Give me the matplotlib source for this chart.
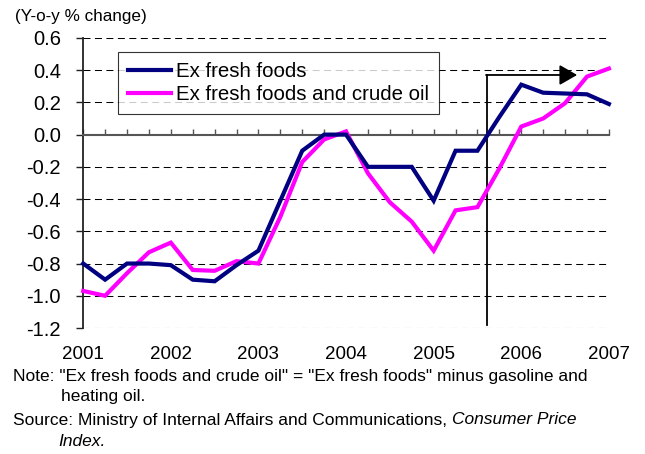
import matplotlib
matplotlib.use("Agg")
import matplotlib.pyplot as plt
import numpy as np
from matplotlib import font_manager

# quarterly, 2001Q1 .. 2007Q1
years = ["2001", "2002", "2003", "2004", "2005", "2006", "2007"]
ex_fresh = [-0.80, -0.90, -0.80, -0.80, -0.81, -0.90, -0.91, -0.81, -0.72,
            -0.41, -0.10, 0.00, 0.00, -0.20, -0.20, -0.20, -0.41, -0.10,
            -0.10, 0.11, 0.31, 0.26, 0.255, 0.25, 0.19]
ex_fresh_oil = [-0.97, -1.00, -0.86, -0.73, -0.67, -0.84, -0.845, -0.785, -0.80,
                -0.51, -0.17, -0.03, 0.02, -0.24, -0.42, -0.54, -0.72, -0.47,
                -0.45, -0.21, 0.05, 0.10, 0.195, 0.36, 0.41]
yticks = [0.6, 0.4, 0.2, 0.0, -0.2, -0.4, -0.6, -0.8, -1.0, -1.2]

# arrow marking the turn (x in quarters from 2001Q1)
arrow_x0, arrow_x1 = 18.42, 22.55
arrow_ybot, arrow_ytop = -1.18, 0.37

names = {f.name for f in font_manager.fontManager.ttflist}
base = "Liberation Sans" if "Liberation Sans" in names else "DejaVu Sans"
plt.rcParams["font.family"] = [base, "DejaVu Sans"]

fig = plt.figure(figsize=(6.45, 4.54), dpi=100)
ax = fig.add_axes([0.129, 0.2775, 0.815, 0.639])

x = np.arange(len(ex_fresh))
ax.plot(x, ex_fresh, color="#000080", lw=3, label="Ex fresh foods",
        clip_on=False, zorder=4, solid_joinstyle="miter")
ax.plot(x, ex_fresh_oil, color="#FF00FF", lw=3,
        label="Ex fresh foods and crude oil", clip_on=False, zorder=3,
        solid_joinstyle="miter")

ax.set_xlim(0, len(x) - 1)
ax.set_ylim(-1.2, 0.6)
ax.set_yticks(yticks)
ax.set_yticklabels(["%.1f" % v for v in yticks])

# category axis crosses at zero, quarter ticks pointing up
ax.spines["bottom"].set_position(("data", 0))
ax.spines["bottom"].set_color("#555555")
ax.spines["bottom"].set_linewidth(1.5)
ax.set_xticks(x)
ax.tick_params(axis="x", direction="in", length=4, width=1, color="#555555",
               labelbottom=False)

# year labels under the plot
yr = ax.secondary_xaxis("bottom")
yr.set_xticks(np.arange(0, len(x), 4))
yr.set_xticklabels(years)
yr.tick_params(length=0, pad=13, labelsize=13.5)
yr.spines["bottom"].set_visible(False)

for s in ["top", "right"]:
    ax.spines[s].set_visible(False)
ax.spines["left"].set_color("#222222")
ax.spines["left"].set_linewidth(1.3)
ax.tick_params(axis="y", length=5, width=1, color="#222222", pad=11,
               labelsize=14.5)

for v in yticks:
    if v != 0:
        ax.axhline(v, color="black", lw=0.75, dashes=(6.7, 4.3), zorder=1)

ax.plot([arrow_x0, arrow_x0], [arrow_ybot, arrow_ytop], color="black",
        lw=1.3, zorder=2)
ax.annotate("", xy=(arrow_x1, arrow_ytop), xytext=(arrow_x0 - 0.03, arrow_ytop),
            arrowprops=dict(arrowstyle="-|>,head_length=0.54,head_width=0.31",
                            mutation_scale=20, color="black", lw=1.3,
                            shrinkA=0, shrinkB=0), zorder=2)

leg = ax.legend(loc="upper left", bbox_to_anchor=(0.066, 0.952),
                fontsize=14.7, frameon=True, fancybox=False, borderpad=0.5,
                handlelength=2.1, handletextpad=0.25, labelspacing=0.2,
                borderaxespad=0)
leg.get_frame().set_edgecolor("black")
leg.get_frame().set_linewidth(0.8)
leg.set_zorder(5)

fig.text(15 / 645, 1 - 17 / 454, "(Y-o-y % change)", fontsize=12.3,
         va="center", ha="left")

note_fs = 12.5
fig.text(13 / 645, 1 - 377 / 454,
         'Note: "Ex fresh foods and crude oil" = "Ex fresh foods" minus gasoline and',
         fontsize=note_fs, va="center", ha="left")
fig.text(61 / 645, 1 - 397 / 454, "heating oil.", fontsize=note_fs,
         va="center", ha="left")
src = fig.text(13 / 645, 1 - 420 / 454,
               "Source: Ministry of Internal Affairs and Communications, ",
               fontsize=note_fs, va="center", ha="left")
fig.canvas.draw()
bb = src.get_window_extent(fig.canvas.get_renderer())
fig.text(bb.x1 / fig.bbox.width, 1 - 420 / 454, "Consumer Price",
         fontsize=note_fs, style="italic", va="center", ha="left")
fig.text(58 / 645, 1 - 441 / 454, "Index.", fontsize=note_fs,
         style="italic", va="center", ha="left")

fig.savefig("out.png", dpi=100)
